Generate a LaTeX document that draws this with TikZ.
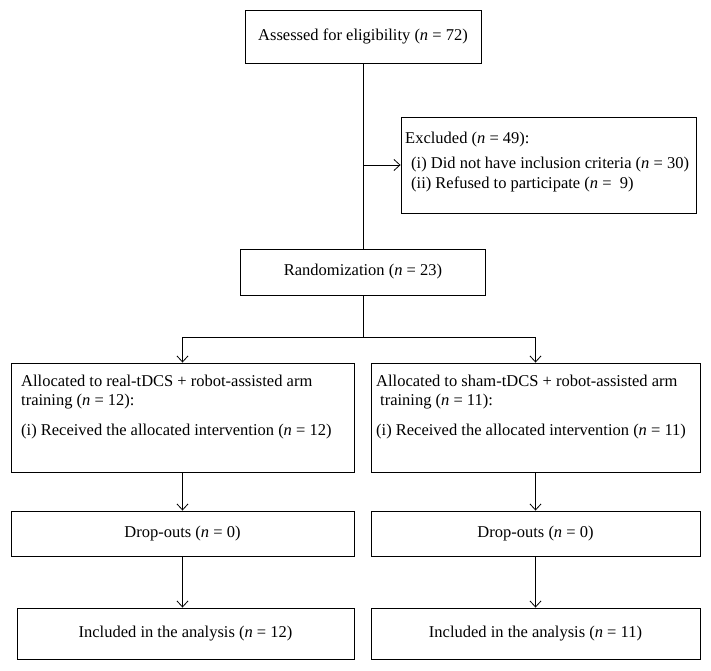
\documentclass[tikz,border=0pt]{standalone}
\usepackage{fontspec}
\setmainfont{Liberation Serif}
\usetikzlibrary{arrows.meta}
\begin{document}
\begin{tikzpicture}[x=1pt,y=-1pt,
  box/.style={draw, line width=0.9pt, inner sep=0pt},
  lbl/.style={inner sep=0pt, anchor=north west, align=left, font=\fontsize{16.5}{19}\selectfont},
  ctext/.style={font=\fontsize{16.5}{19}\selectfont},
  arr/.style={-{Straight Barb[length=6pt,width=11pt]}, line width=0.8pt},
  conn/.style={line width=0.8pt}]
\useasboundingbox (0,0) rectangle (711,670);
\fill[white] (0,0) rectangle (711,670);

\node[box, minimum width=236, minimum height=53, ctext] (assess) at (363,36.5) {Assessed for eligibility (\textit{n} = 72)};
\node[box, minimum width=295, minimum height=96] (excl) at (548.5,165) {};
\node[lbl, font=\fontsize{16.5}{20}\selectfont] (excltxt) at (405,132) {Excluded (\textit{n} = 49):\\[5pt]\hspace*{6pt}(i) Did not have inclusion criteria (\textit{n} = 30)\\\hspace*{6pt}(ii) Refused to participate (\textit{n} = \ 9)};
\node[box, minimum width=245, minimum height=46, ctext] (rand) at (363,272) {Randomization (\textit{n} = 23)};

\node[box, minimum width=343, minimum height=109] (a1) at (182.5,417.5) {};
\node[lbl] (a1txt) at (21,375) {Allocated to real-tDCS + robot-assisted arm\\training (\textit{n} = 12):\\[11pt](i) Received the allocated intervention (\textit{n} = 12)};
\node[box, minimum width=329, minimum height=109] (a2) at (535.5,417.5) {};
\node[lbl] (a2txt) at (376,375) {Allocated to sham-tDCS + robot-assisted arm\\\hspace*{4pt}training (\textit{n} = 11):\\[11pt](i) Received the allocated intervention (\textit{n} = 11)};

\node[box, minimum width=343, minimum height=45, ctext] (d1) at (182.5,533.5) {Drop-outs (\textit{n} = 0)};
\node[box, minimum width=329, minimum height=45, ctext] (d2) at (535.5,533.5) {Drop-outs (\textit{n} = 0)};
\node[box, minimum width=337, minimum height=51, ctext] (i1) at (185.5,633.5) {Included in the analysis (\textit{n} = 12)};
\node[box, minimum width=329, minimum height=51, ctext] (i2) at (535.5,633.5) {Included in the analysis (\textit{n} = 11)};

\draw[conn] (assess.south) -- (rand.north);
\coordinate (ex) at (assess.south |- excl.west);
\draw[arr] (ex) -- (excl.west);
\coordinate (split) at (363,337);
\draw[conn] (rand.south) -- (split);
\draw[arr] (split) -| (a1.north);
\draw[arr] (split) -| (a2.north);
\draw[arr] (a1.south) -- (d1.north);
\draw[arr] (a2.south) -- (d2.north);
\draw[arr] (d1.south) -- (d1.south |- i1.north);
\draw[arr] (d2.south) -- (i2.north);
\end{tikzpicture}
\end{document}
